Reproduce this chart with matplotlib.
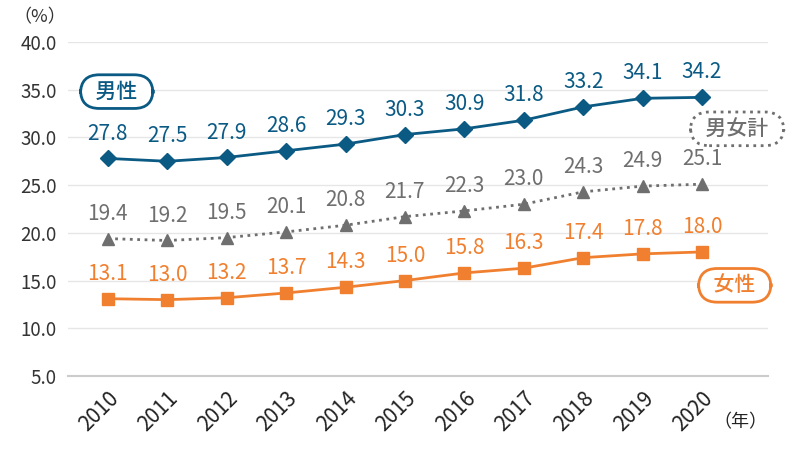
import matplotlib.pyplot as plt

plt.rcParams['font.family'] = ['Noto Sans CJK JP', 'DejaVu Sans']

years = [2010, 2011, 2012, 2013, 2014, 2015, 2016, 2017, 2018, 2019, 2020]
male = [27.8, 27.5, 27.9, 28.6, 29.3, 30.3, 30.9, 31.8, 33.2, 34.1, 34.2]
total = [19.4, 19.2, 19.5, 20.1, 20.8, 21.7, 22.3, 23.0, 24.3, 24.9, 25.1]
female = [13.1, 13.0, 13.2, 13.7, 14.3, 15.0, 15.8, 16.3, 17.4, 17.8, 18.0]
y_ticks = [5, 10, 15, 20, 25, 30, 35, 40]

BLUE = '#0a5a84'
GRAY = '#6f6f6f'
ORANGE = '#f0802f'

fig = plt.figure(figsize=(8, 4.51), dpi=100)
ax = fig.add_axes([68 / 800, 1 - 376 / 451, 700 / 800, 334 / 451])
ax.set_xlim(2009.33, 2021.11)
ax.set_ylim(5, 40)

series = [
    (male, BLUE, 'D', '-', 8),
    (total, GRAY, '^', ':', 9),
    (female, ORANGE, 's', '-', 9),
]
for vals, color, marker, ls, ms in series:
    ax.plot(years, vals, color=color, marker=marker, linestyle=ls, linewidth=2,
            markersize=ms, zorder=3)
    for x, v in zip(years, vals):
        ax.annotate(f'{v:.1f}', (x, v), xytext=(0, 10), textcoords='offset points',
                    ha='center', va='bottom', color=color, fontsize=15)

ax.set_yticks(y_ticks)
ax.set_yticklabels([f'{t:.1f}' for t in y_ticks], fontsize=13.5, color='#333333')
ax.set_xticks(years)
ax.set_xticklabels([str(y) for y in years], rotation=45, ha='right',
                   rotation_mode='anchor', fontsize=15, color='#222222')
ax.tick_params(length=0, pad=8)
ax.grid(axis='y', color='#e6e6e6', linewidth=1)
ax.set_axisbelow(True)
for s in ['top', 'right', 'left']:
    ax.spines[s].set_visible(False)
ax.spines['bottom'].set_color('#cccccc')
ax.spines['bottom'].set_linewidth(1.5)

fig.text(40 / 800, 1 - 17 / 451, '（%）', ha='center', va='center', fontsize=13, color='#333333')
fig.text(740 / 800, 1 - 422 / 451, '（年）', ha='center', va='center', fontsize=13, color='#222222')

box = 'round,pad=0.28,rounding_size=0.9'
ax.text(2010.15, 34.8, '  男性  ', ha='center', va='center', fontsize=15, color=BLUE,
        fontweight='medium',
        bbox=dict(boxstyle=box, fc='white', ec=BLUE, lw=2))
ax.text(2020.59, 30.9, '  男女計  ', ha='center', va='center', fontsize=15, color=GRAY,
        fontweight='medium',
        bbox=dict(boxstyle=box, fc='white', ec=GRAY, lw=2, ls=':'))
ax.text(2020.55, 14.5, '  女性  ', ha='center', va='center', fontsize=15, color=ORANGE,
        fontweight='medium',
        bbox=dict(boxstyle=box, fc='white', ec=ORANGE, lw=2))

fig.savefig('out.png', dpi=100)
